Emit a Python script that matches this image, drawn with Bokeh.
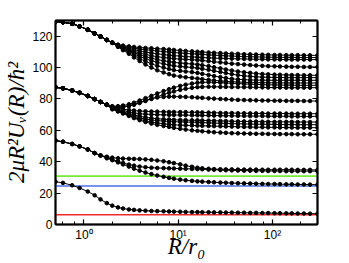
from bokeh.plotting import figure
from bokeh.models import LinearAxis, LogAxis, Span, FixedTicker, LogTicker
from bokeh.embed import file_html
from bokeh.resources import INLINE

# R / r0 sample points
R = [0.5, 0.6, 0.75, 0.9, 1.1, 1.3, 1.5, 1.75, 2.0, 2.3,
     2.6, 3.0, 3.4, 3.9, 4.5, 5.2, 6.0, 7.0, 8.0, 9.0,
     10.5, 12, 14, 16, 18, 21, 24, 28, 32, 37,
     43, 50, 58, 67, 78, 90, 105, 120, 140, 160,
     185, 215, 250, 300]

# lowest curve
low = [27.3, 26.5, 25.0, 23.3, 21.0, 18.6, 16.0, 13.6, 12.0, 10.9,
       10.2, 9.6, 9.3, 9.0, 8.8, 8.6, 8.5, 8.4, 8.3, 8.2,
       8.1, 8.0, 7.9, 7.9, 7.8, 7.8, 7.7, 7.7, 7.6, 7.6,
       7.5, 7.5, 7.4, 7.4, 7.3, 7.3, 7.2, 7.2, 7.1, 7.1,
       7.0, 7.0, 6.9, 6.9]

# second group: common start, then three branches
g2_trunk = [53.5, 52.7, 51.3, 49.8, 47.8, 45.5, 44.0]
g2_a = [43.2, 42.6, 42.2, 42.0, 41.9, 41.8, 41.7, 41.5, 41.2, 40.8,
        40.3, 39.7, 39.1, 38.3, 37.5, 36.8, 36.2, 35.8, 35.5, 35.3,
        35.2, 35.1, 35.1, 35.0, 35.0, 35.0, 35.0, 34.9, 34.9, 34.9,
        34.9, 34.9, 34.9, 34.8, 34.8, 34.8, 34.8]
g2_b = [42.6, 41.4, 40.2, 39.2, 38.2, 37.5, 36.9, 36.5, 36.2, 36.0,
        35.9, 35.8, 35.7, 35.6, 35.5, 35.4, 35.3, 35.2, 35.0, 34.9,
        34.7, 34.6, 34.5, 34.4, 34.3, 34.3, 34.2, 34.2, 34.1, 34.1,
        34.1, 34.0, 34.0, 34.0, 34.0, 34.0, 34.0]
g2_c = [42.2, 41.0, 39.6, 38.3, 36.9, 35.6, 34.3, 33.1, 32.1, 31.2,
        30.4, 29.7, 29.2, 28.6, 28.2, 27.8, 27.5, 27.3, 27.1, 26.9,
        26.7, 26.6, 26.4, 26.3, 26.2, 26.1, 26.0, 25.9, 25.8, 25.8,
        25.7, 25.6, 25.6, 25.5, 25.5, 25.4, 25.4]

# third group
g3_trunk = [87.5, 86.8, 85.4, 83.9, 81.9, 79.9, 78.1, 76.3]
g3_m1 = [75.4, 75.4, 75.8, 76.6, 77.6, 79.0, 80.5, 82.0, 83.5, 85.0,
         86.2, 87.2, 88.3, 89.1, 89.8, 90.3, 90.6, 90.7, 90.6, 90.4,
         90.2, 90.0, 89.8, 89.6, 89.4, 89.3, 89.1, 89.0, 88.9, 88.9,
         88.8, 88.8, 88.7, 88.7, 88.7, 88.7]
g3_m2 = [75.1, 74.9, 75.0, 75.5, 76.3, 77.4, 78.7, 80.0, 81.4, 82.8,
         83.9, 84.8, 85.8, 86.5, 87.1, 87.5, 87.7, 87.8, 87.8, 87.7,
         87.7, 87.6, 87.6, 87.5, 87.5, 87.4, 87.4, 87.3, 87.3, 87.3,
         87.2, 87.2, 87.2, 87.2, 87.2, 87.2]
g3_m3 = [74.8, 74.5, 74.7, 75.5, 76.6, 77.9, 79.1, 80.2, 80.9, 81.3,
         81.5, 81.5, 81.4, 81.3, 81.1, 80.9, 80.7, 80.4, 80.2, 80.0,
         79.8, 79.6, 79.4, 79.3, 79.2, 79.1, 79.0, 79.0, 78.9, 78.9,
         78.8, 78.8, 78.8, 78.7, 78.7, 78.7]
g3_d1 = [74.6, 74.0, 73.5, 73.0, 72.6, 72.3, 72.1, 72.0, 71.9, 71.8,
         71.7, 71.7, 71.6, 71.6, 71.5, 71.5, 71.4, 71.3, 71.2, 71.1,
         71.0, 71.0, 70.9, 70.9, 70.8, 70.8, 70.8, 70.7, 70.7, 70.7,
         70.7, 70.6, 70.6, 70.6, 70.6, 70.6]
g3_d2 = [74.3, 73.4, 72.6, 71.8, 71.1, 70.6, 70.3, 70.1, 70.0, 69.9,
         69.8, 69.8, 69.7, 69.7, 69.6, 69.6, 69.5, 69.5, 69.4, 69.4,
         69.3, 69.3, 69.2, 69.2, 69.1, 69.1, 69.1, 69.0, 69.0, 69.0,
         69.0, 68.9, 68.9, 68.9, 68.9, 68.9]
g3_d3 = [74.0, 72.9, 71.8, 70.7, 69.8, 69.0, 68.3, 67.8, 67.4, 67.1,
         66.9, 66.7, 66.6, 66.5, 66.4, 66.4, 66.3, 66.2, 66.1, 66.0,
         65.9, 65.8, 65.7, 65.7, 65.6, 65.6, 65.5, 65.5, 65.4, 65.4,
         65.4, 65.4, 65.3, 65.3, 65.3, 65.3]
g3_d4 = [73.8, 72.6, 71.3, 70.1, 69.0, 68.0, 67.2, 66.6, 66.2, 65.9,
         65.7, 65.5, 65.4, 65.3, 65.2, 65.1, 64.9, 64.8, 64.6, 64.5,
         64.4, 64.3, 64.2, 64.1, 64.0, 63.9, 63.9, 63.8, 63.8, 63.7,
         63.7, 63.7, 63.6, 63.6, 63.6, 63.6]
g3_d5 = [73.6, 72.4, 71.0, 69.6, 68.3, 67.1, 66.1, 65.3, 64.7, 64.2,
         63.8, 63.5, 63.3, 63.2, 63.1, 63.0, 62.9, 62.8, 62.7, 62.6,
         62.5, 62.4, 62.3, 62.2, 62.1, 62.0, 62.0, 61.9, 61.9, 61.8,
         61.8, 61.8, 61.7, 61.7, 61.7, 61.7]
g3_d6 = [73.4, 72.0, 70.7, 69.2, 67.8, 66.5, 65.3, 64.3, 63.5, 62.8,
         62.2, 61.6, 61.0, 60.5, 60.0, 59.7, 59.4, 59.1, 58.8, 58.6,
         58.4, 58.2, 58.1, 58.0, 57.9, 57.8, 57.8, 57.7, 57.7, 57.6,
         57.6, 57.6, 57.5, 57.5, 57.5, 57.5]

# top group
g4_trunk = [129.3, 128.9, 127.9, 126.3, 124.1, 121.8, 119.8, 117.6, 115.8]
g4_u1 = [114.6, 114.0, 113.5, 113.1, 112.8, 112.5, 112.3, 112.0, 111.8, 111.5,
         111.2, 110.9, 110.6, 110.3, 110.1, 109.9, 109.6, 109.4, 109.2, 109.0,
         108.8, 108.7, 108.5, 108.4, 108.3, 108.2, 108.1, 108.0, 108.0, 107.9,
         107.9, 107.9, 107.8, 107.8, 107.8]
g4_u2 = [114.4, 113.6, 112.9, 112.3, 111.8, 111.4, 111.0, 110.6, 110.2, 109.9,
         109.6, 109.3, 109.0, 108.8, 108.6, 108.4, 108.1, 107.9, 107.7, 107.5,
         107.3, 107.2, 107.0, 106.9, 106.8, 106.7, 106.6, 106.6, 106.5, 106.5,
         106.5, 106.4, 106.4, 106.4, 106.4]
g4_u3 = [114.2, 113.2, 112.2, 111.4, 110.6, 109.9, 109.3, 108.8, 108.3, 107.9,
         107.6, 107.3, 107.0, 106.8, 106.6, 106.4, 106.2, 106.0, 105.9, 105.8,
         105.7, 105.6, 105.5, 105.4, 105.3, 105.3, 105.2, 105.2, 105.2, 105.1,
         105.1, 105.1, 105.1, 105.1, 105.1]
g4_u4 = [114.0, 112.8, 111.5, 110.4, 109.3, 108.4, 107.6, 106.9, 106.4, 106.0,
         105.7, 105.4, 105.2, 105.0, 104.8, 104.5, 104.1, 103.7, 103.3, 102.9,
         102.5, 102.2, 101.9, 101.6, 101.3, 101.1, 100.9, 100.8, 100.7, 100.6,
         100.5, 100.5, 100.4, 100.4, 100.4]
g4_u5 = [113.8, 112.4, 110.9, 109.5, 108.2, 107.0, 106.0, 105.1, 104.4, 103.8,
         103.3, 102.9, 102.6, 102.3, 102.0, 101.5, 100.9, 100.2, 99.5, 98.8,
         98.1, 97.5, 97.0, 96.6, 96.2, 95.9, 95.7, 95.5, 95.4, 95.3,
         95.2, 95.2, 95.1, 95.1, 95.1]
g4_u6 = [113.6, 112.0, 110.3, 108.7, 107.1, 105.7, 104.4, 103.3, 102.4, 101.7,
         101.1, 100.7, 100.4, 100.1, 99.7, 99.2, 98.6, 97.9, 97.2, 96.5,
         95.8, 95.2, 94.7, 94.4, 94.1, 93.9, 93.8, 93.7, 93.7, 93.6,
         93.6, 93.6, 93.6, 93.6, 93.6]
g4_u7 = [113.4, 111.6, 109.6, 107.7, 105.8, 104.0, 102.4, 101.1, 100.0, 99.1,
         98.4, 97.9, 97.5, 97.1, 96.6, 96.0, 95.3, 94.6, 93.9, 93.3,
         92.8, 92.5, 92.3, 92.1, 92.0, 92.0, 91.9, 91.9, 91.9, 91.9,
         91.9, 91.9, 91.9, 91.9, 91.9]
g4_u8 = [113.2, 111.1, 108.8, 106.5, 104.2, 102.0, 100.0, 98.3, 96.9, 95.8,
         94.9, 94.3, 93.8, 93.4, 93.0, 92.6, 92.2, 91.8, 91.5, 91.2,
         91.0, 90.8, 90.6, 90.5, 90.4, 90.4, 90.3, 90.3, 90.3, 90.2,
         90.2, 90.2, 90.2, 90.2, 90.2]

# threshold levels (horizontal lines)
thr_levels = [6.2, 24.5, 30.8]
thr_colors = ["#f02a2a", "#4d6fe8", "#76ea34"]

y_ticks = [0, 20, 40, 60, 80, 100, 120]
x_major = [1, 10, 100]
x_major_labels = ["10\u2070", "10\u00b9", "10\u00b2"]

curves = [low]
curves += [g2_trunk + b for b in (g2_a, g2_b, g2_c)]
curves += [g3_trunk + b for b in (g3_m1, g3_m2, g3_m3, g3_d1, g3_d2, g3_d3, g3_d4, g3_d5, g3_d6)]
curves += [g4_trunk + b for b in (g4_u1, g4_u2, g4_u3, g4_u4, g4_u5, g4_u6, g4_u7, g4_u8)]

p = figure(width=349, height=263, x_axis_type="log", x_range=(0.5, 300), y_range=(0, 130),
           output_backend="svg", toolbar_location=None,
           min_border_left=55, min_border_right=32, min_border_top=20, min_border_bottom=39)
p.grid.visible = False
p.outline_line_color = "black"
p.outline_line_width = 1.5
p.background_fill_color = "white"
p.border_fill_color = "white"

for lvl, col in zip(thr_levels, thr_colors):
    p.add_layout(Span(location=lvl, dimension="width", line_color=col, line_width=1.6, level="underlay"))

for c in curves:
    p.line(R, c, line_color="black", line_width=1)
    p.scatter(R, c, size=3.6, fill_color="black", line_color="black")

tick_font = "Liberation Sans"
label_font = "Liberation Serif"

xa = p.xaxis[0]
xa.ticker = LogTicker(desired_num_ticks=3)
xa.major_label_overrides = dict(zip(x_major, x_major_labels))
xa.axis_label = "R/r\u2080"
xa.axis_label_standoff = -11

ya = p.yaxis[0]
ya.ticker = FixedTicker(ticks=y_ticks)
ya.axis_label = "2\u03bcR\u00b2U\u1d65(R)/\u0127\u00b2"
ya.axis_label_standoff = 0

for ax in (xa, ya):
    ax.major_label_text_font = tick_font
    ax.major_label_text_font_size = "12px"
    ax.major_label_text_color = "black"
    ax.axis_label_text_font = label_font
    ax.axis_label_text_font_style = "italic"
    ax.axis_label_text_font_size = "23px"
    ax.axis_label_text_color = "black"
    ax.major_label_standoff = 3

top = LogAxis(ticker=LogTicker(desired_num_ticks=3), major_label_text_alpha=0,
              major_label_text_font_size="2px", major_label_standoff=0)
right = LinearAxis(ticker=FixedTicker(ticks=y_ticks), major_label_text_alpha=0,
                   major_label_text_font_size="2px", major_label_standoff=0)
p.add_layout(top, "above")
p.add_layout(right, "right")

for ax in (xa, ya, top, right):
    ax.axis_line_width = 2
    ax.axis_line_color = "black"
    ax.major_tick_in = 5
    ax.major_tick_out = 0
    ax.minor_tick_in = 3
    ax.minor_tick_out = 0
    ax.major_tick_line_width = 1.2
    ax.minor_tick_line_width = 1
for ax in (ya, right):
    ax.minor_tick_line_color = None

open("out.html", "w").write(file_html(p, INLINE))
